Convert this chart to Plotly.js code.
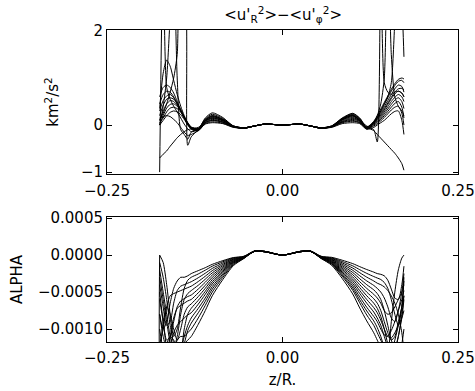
<!DOCTYPE html>
<html><head><meta charset="utf-8">
<script src="https://cdn.plot.ly/plotly-3.0.1.min.js"></script>
<style>body{margin:0;background:#fff}</style>
</head><body><div id="chart" style="width:475px;height:391px"></div>
<script>
// z/R grid shared by all curves
const z = [-0.175,-0.170,-0.165,-0.160,-0.155,-0.150,-0.145,-0.140,-0.135,-0.130,-0.120,-0.110,-0.100,-0.085,-0.070,-0.055,-0.040,-0.025,0,0.025,0.040,0.055,0.070,0.085,0.100,0.110,0.120,0.130,0.135,0.140,0.145,0.150,0.155,0.160,0.165,0.170,0.173];

// tick labels
const xTickVals = [-0.25, 0, 0.25];
const xTickText = ['\u22120.25', '0.00', '0.25'];
const topTickVals = [-1, 0, 2];
const topTickText = ['\u22121', '0', '2'];
const botTickVals = [0.0005, 0, -0.0005, -0.001];
const botTickText = ['0.0005', '0.0000', '\u22120.0005', '\u22120.0010'];

// <u'_R^2> - <u'_phi^2>  (km^2/s^2)
const u1 = [0.35,1.1,1.38,1.25,0.95,0.65,0.4,0.2,0.05,-0.05,-0.08,0.15,0.26, 0.16,-0.02,-0.06,-0.02,0.02,0,0.02,-0.02,-0.06,-0.02,0.15, 0.25,0.15,-0.04,0.08,0.2,0.34,0.48,0.62,0.76,0.88,0.97,1.0,0.98];
const u2 = [0.6,0.8,0.85,0.8,0.68,0.5,0.33,0.18,0.05,-0.04,-0.07,0.13,0.23, 0.14,-0.02,-0.06,-0.02,0.02,0,0.02,-0.02,-0.06,-0.02,0.14, 0.24,0.14,-0.05,0.07,0.18,0.3,0.44,0.58,0.72,0.84,0.93,0.95,0.9];
const u3 = [0.45,0.65,0.72,0.7,0.6,0.45,0.3,0.15,0.03,-0.05,-0.08,0.12,0.2, 0.12,-0.03,-0.07,-0.02,0.02,0,0.02,-0.02,-0.07,-0.03,0.13, 0.22,0.13,-0.05,0.06,0.16,0.27,0.39,0.52,0.65,0.77,0.85,0.82,0.7];
const u4 = [0.3,0.52,0.62,0.65,0.58,0.46,0.32,0.17,0.04,-0.06,-0.09,0.1,0.18, 0.11,-0.03,-0.06,-0.02,0.02,0,0.02,-0.02,-0.06,-0.03,0.12, 0.2,0.12,-0.06,0.05,0.14,0.24,0.35,0.47,0.59,0.7,0.77,0.78,0.75];
const u5 = [0.2,0.42,0.55,0.58,0.55,0.45,0.3,0.15,0.02,-0.07,-0.1,0.09,0.16, 0.1,-0.03,-0.07,-0.02,0.02,0,0.02,-0.02,-0.07,-0.03,0.11, 0.18,0.1,-0.06,0.04,0.12,0.21,0.32,0.44,0.56,0.66,0.72,0.68,0.6];
const u6 = [0.1,0.3,0.45,0.52,0.5,0.42,0.3,0.16,0.03,-0.06,-0.1,0.08,0.14, 0.09,-0.03,-0.06,-0.02,0.02,0,0.02,-0.02,-0.06,-0.03,0.1, 0.16,0.09,-0.07,0.03,0.1,0.18,0.28,0.39,0.5,0.59,0.65,0.6,0.5];
const u7 = [0,0.2,0.36,0.44,0.45,0.4,0.3,0.16,0.02,-0.07,-0.11,0.06,0.12, 0.07,-0.04,-0.07,-0.02,0.02,0,0.02,-0.02,-0.07,-0.04,0.08, 0.14,0.08,-0.07,0.02,0.08,0.15,0.24,0.34,0.44,0.53,0.58,0.5,0.35];
const u8 = [0.05,0.15,0.28,0.36,0.38,0.35,0.27,0.15,0.02,-0.08,-0.12,0.05,0.1, 0.06,-0.04,-0.06,-0.02,0.02,0,0.02,-0.02,-0.06,-0.04,0.07, 0.12,0.07,-0.08,0,0.06,0.12,0.2,0.29,0.38,0.46,0.5,0.38,0.15];
const u9 = [0,0.1,0.2,0.27,0.3,0.28,0.22,0.12,0,-0.09,-0.12,0.03,0.07, 0.04,-0.04,-0.07,-0.02,0.02,0,0.02,-0.02,-0.07,-0.04,0.05, 0.08,0.05,-0.08,-0.02,0.03,0.09,0.16,0.24,0.32,0.38,0.4,0.25,0];
const u10 = [0.15,0.18,0.2,0.18,0.12,0.05,-0.05,-0.15,-0.22,-0.2,-0.12,0.02,0.05, 0.03,-0.05,-0.06,-0.02,0.02,0,0.02,-0.02,-0.06,-0.05,0.03, 0.05,0.03,-0.09,-0.05,0,0.05,0.1,0.17,0.24,0.29,0.3,0.1,-0.2];
const u11 = [-1.0,3.5,0.8,0.55,0.4,0.28,0.15,0.02,-0.08,-0.14,-0.1,0.1,0.2, 0.12,-0.02,-0.06,-0.02,0.02,0,0.02,-0.02,-0.06,-0.03,0.13, 0.22,0.1,-0.02,-0.1,-0.36,3.5,0.9,0.7,0.65,0.7,0.72,0.68,0.6];
const u12 = [0.0,0.4,1.0,2.3,3.5,1.0,-0.1,-0.2,-0.3,-0.15,-0.08,0.08,0.15, 0.09,-0.03,-0.07,-0.02,0.02,0,0.02,-0.02,-0.07,-0.03,0.12, 0.2,0.1,-0.05,0.05,0.2,0.45,1.0,4.0,1.5,0.6,0.4,0.3,0.2];
const u13 = [0.1,0.25,0.45,0.7,1.0,1.5,3.0,3.0,-0.43,-0.25,-0.1,0.1,0.18, 0.11,-0.02,-0.06,-0.02,0.02,0,0.02,-0.02,-0.06,-0.02,0.12, 0.2,0.1,-0.05,0.05,0.15,0.3,0.45,0.6,0.9,2.2,3.5,2.6,1.45];
const u14 = [-0.7,-0.62,-0.55,-0.45,-0.36,-0.27,-0.2,-0.14,-0.1,-0.08,-0.05,0.05,0.1, 0.06,-0.03,-0.06,-0.02,0.02,0,0.02,-0.02,-0.06,-0.03,0.06, 0.1,0.05,-0.05,-0.12,-0.2,-0.28,-0.36,-0.44,-0.52,-0.6,-0.7,-0.82,-0.96];

// ALPHA
const a1 = [-8e-4,-10e-4,-9e-4,-6.5e-4,-4.5e-4,-3.5e-4,-3e-4,-3e-4,-2.8e-4,-2.5e-4,-2.1e-4,-1.7e-4,-1.25e-4,-0.75e-4,-0.33e-4,-0.2e-4,0.5e-4,0.45e-4,0,0.45e-4,0.5e-4,-0.2e-4,-0.3e-4,-0.69e-4,-1.15e-4,-1.56e-4,-1.95e-4,-2.3e-4,-2.5e-4,-2.6e-4,-2.8e-4,-3.4e-4,-4.6e-4,-5.8e-4,-6e-4,-4e-4,-1.5e-4];
const a2 = [0,-1e-4,-4e-4,-8e-4,-11e-4,-10e-4,-7e-4,-4.5e-4,-3.4e-4,-3e-4,-2.55e-4,-2.04e-4,-1.5e-4,-0.9e-4,-0.39e-4,-0.15e-4,0.55e-4,0.5e-4,0,0.5e-4,0.55e-4,-0.15e-4,-0.38e-4,-0.87e-4,-1.45e-4,-1.97e-4,-2.47e-4,-2.9e-4,-3.1e-4,-3.3e-4,-3.7e-4,-4.5e-4,-6e-4,-8e-4,-9.5e-4,-7e-4,-3e-4];
const a3 = [-4e-4,-7e-4,-9.5e-4,-9e-4,-6.5e-4,-4.8e-4,-4.2e-4,-4e-4,-3.8e-4,-3.6e-4,-3.06e-4,-2.45e-4,-1.8e-4,-1.08e-4,-0.47e-4,-0.25e-4,0.5e-4,0.45e-4,0,0.45e-4,0.5e-4,-0.25e-4,-0.46e-4,-1.05e-4,-1.75e-4,-2.38e-4,-2.98e-4,-3.5e-4,-3.8e-4,-4e-4,-4.3e-4,-4.8e-4,-5.5e-4,-6.5e-4,-8e-4,-10.5e-4,-13e-4];
const a4 = [-12e-4,-10e-4,-7e-4,-5.5e-4,-5.2e-4,-5e-4,-4.8e-4,-4.6e-4,-4.4e-4,-4.2e-4,-3.57e-4,-2.86e-4,-2.1e-4,-1.26e-4,-0.55e-4,-0.2e-4,0.55e-4,0.45e-4,0,0.45e-4,0.55e-4,-0.2e-4,-0.53e-4,-1.23e-4,-2.05e-4,-2.79e-4,-3.49e-4,-4.1e-4,-4.5e-4,-5e-4,-5.8e-4,-7e-4,-8.5e-4,-9e-4,-7.5e-4,-5e-4,-2.5e-4];
const a5 = [-2e-4,-5e-4,-8e-4,-11e-4,-12.5e-4,-11e-4,-8e-4,-6e-4,-5.2e-4,-4.8e-4,-4.08e-4,-3.26e-4,-2.4e-4,-1.44e-4,-0.62e-4,-0.3e-4,0.5e-4,0.5e-4,0,0.5e-4,0.5e-4,-0.3e-4,-0.61e-4,-1.41e-4,-2.35e-4,-3.2e-4,-4e-4,-4.7e-4,-5.2e-4,-6e-4,-7.5e-4,-9.5e-4,-11.5e-4,-12.5e-4,-11e-4,-8e-4,-5.5e-4];
const a6 = [-6e-4,-9e-4,-11.5e-4,-11e-4,-9e-4,-7e-4,-6.2e-4,-5.9e-4,-5.6e-4,-5.4e-4,-4.59e-4,-3.67e-4,-2.7e-4,-1.62e-4,-0.7e-4,-0.25e-4,0.5e-4,0.45e-4,0,0.45e-4,0.5e-4,-0.25e-4,-0.69e-4,-1.59e-4,-2.65e-4,-3.6e-4,-4.5e-4,-5.3e-4,-5.8e-4,-6.5e-4,-7.5e-4,-8e-4,-7.8e-4,-7e-4,-6e-4,-5e-4,-4e-4];
const a7 = [-10e-4,-12.5e-4,-13e-4,-11e-4,-8.5e-4,-7.2e-4,-6.8e-4,-6.5e-4,-6.2e-4,-6e-4,-5.1e-4,-4.08e-4,-3e-4,-1.8e-4,-0.78e-4,-0.3e-4,0.55e-4,0.5e-4,0,0.5e-4,0.55e-4,-0.3e-4,-0.77e-4,-1.77e-4,-2.95e-4,-4e-4,-5e-4,-5.9e-4,-6.5e-4,-7.5e-4,-9e-4,-10.5e-4,-11.5e-4,-11e-4,-9e-4,-7e-4,-5.5e-4];
const a8 = [-14e-4,-9e-4,-7e-4,-8e-4,-10e-4,-11.5e-4,-10e-4,-8e-4,-7e-4,-6.6e-4,-5.61e-4,-4.49e-4,-3.3e-4,-1.98e-4,-0.86e-4,-0.3e-4,0.5e-4,0.45e-4,0,0.45e-4,0.5e-4,-0.3e-4,-0.85e-4,-1.95e-4,-3.25e-4,-4.4e-4,-5.5e-4,-6.5e-4,-7.2e-4,-8.3e-4,-10e-4,-12e-4,-13.5e-4,-13e-4,-11e-4,-8.5e-4,-6e-4];
const a9 = [-1e-4,-3e-4,-6e-4,-9.5e-4,-12e-4,-13.5e-4,-13e-4,-10e-4,-8e-4,-7.2e-4,-6.12e-4,-4.9e-4,-3.6e-4,-2.16e-4,-0.94e-4,-0.35e-4,0.5e-4,0.45e-4,0,0.45e-4,0.5e-4,-0.35e-4,-0.92e-4,-2.13e-4,-3.55e-4,-4.8e-4,-6e-4,-7.1e-4,-7.8e-4,-8.8e-4,-10e-4,-11e-4,-11.2e-4,-10.5e-4,-9.5e-4,-8.5e-4,-7.5e-4];
const a10 = [-8e-4,-11e-4,-12.5e-4,-12e-4,-10.5e-4,-9.5e-4,-9e-4,-8.5e-4,-8.1e-4,-7.8e-4,-6.63e-4,-5.3e-4,-3.9e-4,-2.34e-4,-1.01e-4,-0.35e-4,0.55e-4,0.5e-4,0,0.5e-4,0.55e-4,-0.35e-4,-1e-4,-2.31e-4,-3.85e-4,-5.2e-4,-6.5e-4,-7.7e-4,-8.5e-4,-9.5e-4,-11e-4,-12.5e-4,-14e-4,-15e-4,-14e-4,-12e-4,-10e-4];
const a11 = [-3e-4,-6e-4,-9e-4,-12e-4,-14e-4,-14.5e-4,-13e-4,-11e-4,-9.5e-4,-8.5e-4,-7.2e-4,-5.8e-4,-4.25e-4,-2.55e-4,-1.1e-4,-0.4e-4,0.5e-4,0.45e-4,0,0.45e-4,0.5e-4,-0.4e-4,-1.08e-4,-2.49e-4,-4.15e-4,-5.65e-4,-7.05e-4,-8.3e-4,-9e-4,-10e-4,-10.8e-4,-11e-4,-10.2e-4,-9e-4,-7.5e-4,-6e-4,-4.8e-4];
const a12 = [-12e-4,-13e-4,-12e-4,-11e-4,-11.5e-4,-12.5e-4,-13.5e-4,-12e-4,-10.2e-4,-9.2e-4,-7.8e-4,-6.25e-4,-4.6e-4,-2.76e-4,-1.2e-4,-0.4e-4,0.55e-4,0.5e-4,0,0.5e-4,0.55e-4,-0.4e-4,-1.16e-4,-2.67e-4,-4.45e-4,-6.05e-4,-7.55e-4,-8.9e-4,-9.8e-4,-11e-4,-12.5e-4,-13.5e-4,-13e-4,-11.5e-4,-9.5e-4,-7e-4,-3.5e-4];
const a13 = [-5e-4,-9e-4,-12.5e-4,-14e-4,-13e-4,-11.5e-4,-11e-4,-11e-4,-10.5e-4,-10e-4,-8.5e-4,-6.8e-4,-5e-4,-3e-4,-1.3e-4,-0.45e-4,0.5e-4,0.45e-4,0,0.45e-4,0.5e-4,-0.45e-4,-1.24e-4,-2.85e-4,-4.75e-4,-6.45e-4,-8.1e-4,-9.5e-4,-10.5e-4,-11.5e-4,-12.5e-4,-14e-4,-16e-4,-18e-4,-20e-4,-22e-4,-24e-4];
const a14 = [0,-25e-4,-25e-4,-20e-4,-16e-4,-14e-4,-13e-4,-12e-4,-11.5e-4,-11e-4,-9.35e-4,-7.5e-4,-5.5e-4,-3.3e-4,-1.43e-4,-0.45e-4,0.55e-4,0.5e-4,0,0.5e-4,0.55e-4,-0.45e-4,-1.37e-4,-3.15e-4,-5.25e-4,-7.15e-4,-8.9e-4,-10.5e-4,-11.5e-4,-12.5e-4,-13.5e-4,-13e-4,-9e-4,-5e-4,-2e-4,-0.4e-4,0];

const topSeries = [u1,u2,u3,u4,u5,u6,u7,u8,u9,u10,u11,u12,u13,u14];
const botSeries = [a1,a2,a3,a4,a5,a6,a7,a8,a9,a10,a11,a12,a13,a14];

const lineStyle = {color:'#000', width:1, shape:'spline', smoothing:0.7};
const traces = [];
topSeries.forEach(s => traces.push({x:z, y:s, xaxis:'x', yaxis:'y', mode:'lines', line:lineStyle, hoverinfo:'skip'}));
botSeries.forEach(s => traces.push({x:z, y:s, xaxis:'x2', yaxis:'y2', mode:'lines', line:lineStyle, hoverinfo:'skip'}));

const font = {family:'DejaVu Sans, sans-serif', size:15, color:'#000'};
const axisCommon = {showline:true, linecolor:'#000', linewidth:1, mirror:'ticks', ticks:'inside', ticklen:5, tickcolor:'#000', tickwidth:1, showgrid:false, zeroline:false, tickfont:font};

const layout = {
  width:475, height:391,
  margin:{l:107, r:17, t:30, b:49},
  paper_bgcolor:'#fff', plot_bgcolor:'#fff',
  showlegend:false,
  font:font,
  title:{text:"&lt;u'<sub>R</sub><sup>2</sup>&gt;\u2212&lt;u'<sub>\u03c6</sub><sup>2</sup>&gt;", x:0.596, xanchor:'center', y:0.962, yanchor:'middle', font:font},
  xaxis:Object.assign({}, axisCommon, {domain:[0,1], anchor:'y', range:[-0.25,0.25], tickmode:'array', tickvals:xTickVals, ticktext:xTickText, ticklabelstandoff:3}),
  yaxis:Object.assign({}, axisCommon, {domain:[0.5385,1], anchor:'x', range:[-1.04,2.02], tickmode:'array', tickvals:topTickVals, ticktext:topTickText, title:{text:'km<sup>2</sup>/s<sup>2</sup>', font:font, standoff:18}}),
  xaxis2:Object.assign({}, axisCommon, {domain:[0,1], anchor:'y2', range:[-0.25,0.25], tickmode:'array', tickvals:xTickVals, ticktext:xTickText, ticklabelstandoff:2, title:{text:'z/R.', font:font, standoff:8}}),
  yaxis2:Object.assign({}, axisCommon, {domain:[0,0.4006], anchor:'x2', range:[-0.001175,0.000515], tickmode:'array', tickvals:botTickVals, ticktext:botTickText, title:{text:'ALPHA', font:font, standoff:11}})
};

Plotly.newPlot('chart', traces, layout, {displayModeBar:false});
</script>
</body></html>
